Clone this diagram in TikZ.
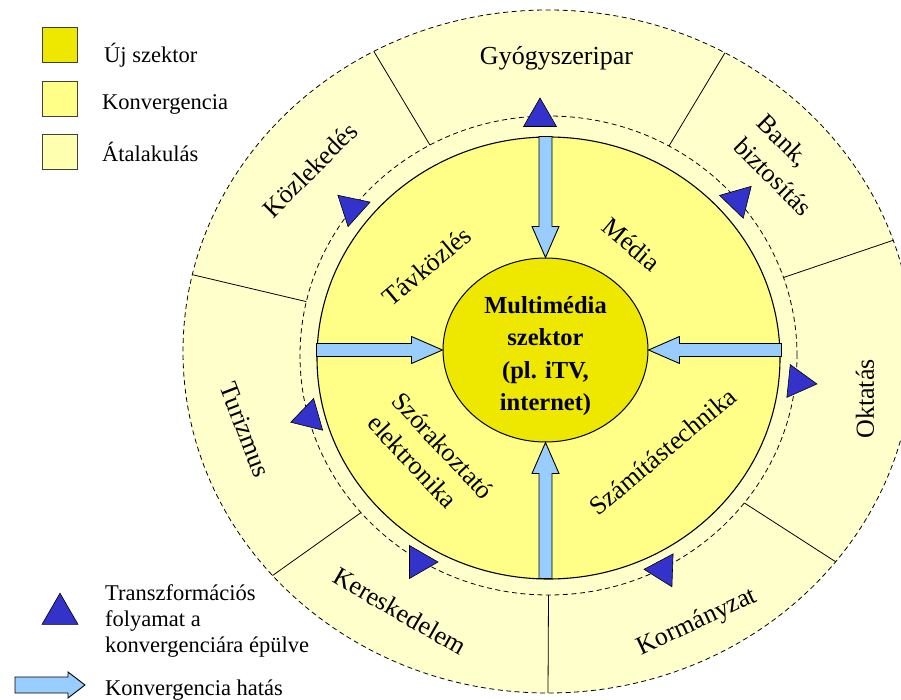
\documentclass[tikz,border=0pt]{standalone}
\usepackage{fontspec}
\setmainfont{Liberation Serif}
\usetikzlibrary{shapes.geometric}
\usetikzlibrary{calc}
\definecolor{ujszektor}{HTML}{EEE800}
\definecolor{konvergencia}{HTML}{FFFF88}
\definecolor{atalakulas}{HTML}{FFFFCC}
\definecolor{atalakulasjel}{HTML}{FFFFB0}
\definecolor{transzkek}{HTML}{3333CC}
\definecolor{nyilkek}{HTML}{99CCFF}

% block arrow: tip, direction, length
\newcommand{\konvnyil}[3]{%
\draw[nyil, shift={#1}, rotate=#2] (0,0) -- (-31,13.5) -- (-31,6.5) -- (-#3,6.5)
  -- (-#3,-6.5) -- (-31,-6.5) -- (-31,-13.5) -- cycle;}

\begin{document}
\begin{tikzpicture}[x=1pt,y=1pt,
  szaggatott/.style={dash pattern=on 5pt off 3.5pt, line width=0.8pt},
  nyil/.style={draw=black, fill=nyilkek, line width=0.9pt},
  haromszog/.style={regular polygon, regular polygon sides=3, draw=black,
    fill=transzkek, minimum size=38, inner sep=0pt, line width=0.6pt},
  felirat/.style={inner sep=0pt, font=\fontsize{26}{33}\selectfont},
  jel/.style={inner sep=0pt, font=\fontsize{22.5}{26}\selectfont, anchor=base west},
  negyzet/.style={draw=black!75, line width=1pt, minimum size=35, inner sep=0pt}]
\useasboundingbox (0,0) rectangle (901,699);
\clip (0,0) rectangle (901,699);

% gyuruk
\draw[szaggatott, fill=atalakulas] (548,347.5) ellipse [x radius=365, y radius=341.5];
\draw[szaggatott] (548.5,343.5) ellipse [x radius=248.5, y radius=239.5];
\foreach \a in {-90,-38,19,61,118.5,167,221}
  \draw[line width=0.8pt] ($(548.5,343.5)+(\a:248.5 and 239.5)$) -- ($(548,347.5)+(\a:365 and 341.5)$);
\draw[line width=1.1pt, fill=konvergencia] (548.5,341) ellipse [x radius=231.5, y radius=221];

\node[ellipse, draw, line width=1pt, fill=ujszektor, minimum width=205, minimum height=184,
  inner sep=0pt] (szektor) at (545.5,349) {};
\node[align=center, inner sep=0pt, font=\bfseries\fontsize{24.5}{32.5}\selectfont]
  (szektorszoveg) at (545.5,343) {Multimédia\\szektor\\(pl. iTV,\\internet)};

% konvergencia hatas
\konvnyil{(szektor.west)}{0}{126}
\konvnyil{(szektor.east)}{180}{133}
\konvnyil{(szektor.north)}{270}{121}
\konvnyil{(szektor.south)}{90}{136}

% transzformacios folyamat
\foreach \p/\r [count=\i] in {{(540,582)}/0, {(352,491)}/168, {(738,499)}/196, {(798,317)}/-96,
  {(663,129)}/88, {(419,137)}/-90, {(309,282)}/-14}
  \node[haromszog, rotate=\r] (t\i) at \p {};

% agazatok
\node[felirat, anchor=base] (gyogy) at (556.5,634) {Gyógyszeripar};
\node[felirat, rotate=-45, align=left] (bank) at (785,534) {Bank,\\biztosítás};
\node[felirat, rotate=90] (oktatas) at (865,300) {Oktatás};
\node[felirat, rotate=25] (kormany) at (697.5,76.5) {Kormányzat};
\node[felirat, rotate=-30] (keresk) at (400,88) {Kereskedelem};
\node[felirat, rotate=-69] (turizmus) at (245,269) {Turizmus};
\node[felirat, rotate=45] (kozlek) at (310,529) {Közlekedés};
\node[felirat, rotate=40] (tavkoz) at (426.5,432.5) {Távközlés};
\node[felirat, rotate=-40] (media) at (631.5,454.5) {Média};
\node[felirat, rotate=40] (szamtech) at (662.5,247.5) {Számítástechnika};
\node[felirat, rotate=-47, align=left] (szorak) at (431,242) {Szórakoztató\\elektronika};

% jelmagyarazat
\node[negyzet, fill=ujszektor] (jel1) at (60,653.5) {};
\node[negyzet, fill=konvergencia] (jel2) at (60,599.5) {};
\node[negyzet, fill=atalakulasjel] (jel3) at (60,546.5) {};
\node[jel] (jelszov1) at (104,636) {Új szektor};
\node[jel] (jelszov2) at (102,589) {Konvergencia};
\node[jel] (jelszov3) at (102,537) {Átalakulás};
\node[haromszog, minimum size=41.6] (jel4) at (60,85) {};
\node[jel, align=left, anchor=north west] (jelszov4) at (105,115)
  {Transzformációs\\folyamat a\\konvergenciára épülve};
\draw[nyil] (85,14) -- (68,27) -- (68,22) -- (15,22) -- (15,6) -- (68,6) -- (68,1) -- cycle;
\node[jel] (jelszov5) at (105,4) {Konvergencia hatás};
\end{tikzpicture}
\end{document}
